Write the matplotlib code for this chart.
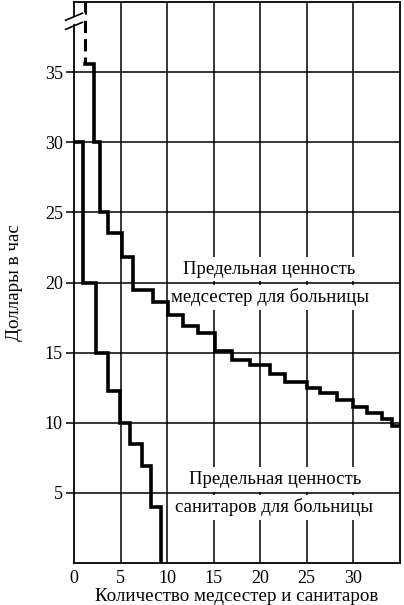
import matplotlib
matplotlib.use("Agg")
import matplotlib.pyplot as plt

# marginal value of nurses: step edges (count) and value on each step ($/hour)
nurse_edges = [1.2, 2.15, 2.8, 3.66, 5.16, 6.34, 8.5, 10.1, 11.7, 13.3, 15.2, 17.0,
               18.9, 21.1, 22.7, 25.1, 26.5, 28.3, 30.0, 31.5, 33.1, 34.2, 35.05]
nurse_values = [35.6, 30, 25, 23.5, 21.8, 19.5, 18.6, 17.65, 16.9, 16.4, 15.1, 14.5,
                14.1, 13.5, 12.9, 12.45, 12.1, 11.6, 11.1, 10.7, 10.3, 9.8]

# marginal value of orderlies
orderly_edges = [0, 0.97, 2.37, 3.66, 4.95, 6.0, 7.3, 8.3, 9.35]
orderly_values = [30, 20, 15, 12.25, 10, 8.5, 6.9, 4.0]

x_ticks = [0, 5, 10, 15, 20, 25, 30]
y_ticks = [5, 10, 15, 20, 25, 30, 35]

nurse_label = ["Предельная ценность", "медсестер для больницы"]
orderly_label = ["Предельная ценность", "санитаров для больницы"]

plt.rcParams['font.family'] = ['Liberation Serif', 'DejaVu Serif']

fig = plt.figure(figsize=(4.04, 6.05), dpi=100)
ax = fig.add_axes([74 / 404, 1 - 563 / 605, (400 - 74) / 404, 561 / 605])
ax.set_xlim(0, 35.05)
ax.set_ylim(0, 40)

# grid
for x in x_ticks[1:]:
    ax.axvline(x, color="k", lw=1.1, zorder=1)
for y in y_ticks:
    ax.axhline(y, color="k", lw=1.1, zorder=3)

# curves
ax.step(nurse_edges, nurse_values + [nurse_values[-1]], where="post",
        color="k", lw=2.6, zorder=4, solid_joinstyle="miter")
ax.plot([nurse_edges[0], nurse_edges[0]], [40, nurse_values[0]], color="k",
        lw=2.2, ls=(0, (4, 2)), zorder=4)
ax.step(orderly_edges, orderly_values + [0], where="post",
        color="k", lw=2.6, zorder=4, solid_joinstyle="miter")

# labels on the chart (white boxes cut the vertical grid lines)
box = dict(facecolor="white", edgecolor="none", pad=2.5)
ax.text(21.0, 20.35, nurse_label[0], ha="center", va="bottom", fontsize=13.5,
        bbox=box, zorder=2)
ax.text(21.1, 19.6, nurse_label[1], ha="center", va="top", fontsize=13.5,
        bbox=box, zorder=2)
ax.text(21.6, 5.35, orderly_label[0], ha="center", va="bottom", fontsize=13.5,
        bbox=box, zorder=2)
ax.text(21.5, 4.6, orderly_label[1], ha="center", va="top", fontsize=13.5,
        bbox=box, zorder=2)

ax.set_xticks(x_ticks)
ax.set_yticks(y_ticks)
ax.tick_params(axis="x", length=0, labelsize=13, pad=5)
ax.tick_params(axis="y", length=6, width=1.1, labelsize=13, pad=2)
for s in ax.spines.values():
    s.set_linewidth(1.3)

# axis break on the y axis
ax.plot([-0.9, 0.9], [38.45, 38.95], color="white", lw=5, clip_on=False, zorder=5)
for yb in (38.3, 38.95):
    ax.plot([-0.9, 0.9], [yb - 0.25, yb + 0.25], color="k", lw=1.2,
            clip_on=False, zorder=6)

ax.set_xlabel("Количество медсестер и санитаров", fontsize=13.7, labelpad=1)
ax.set_ylabel("Доллары в час", fontsize=13.7, labelpad=16)

fig.savefig("out.png", dpi=100)
